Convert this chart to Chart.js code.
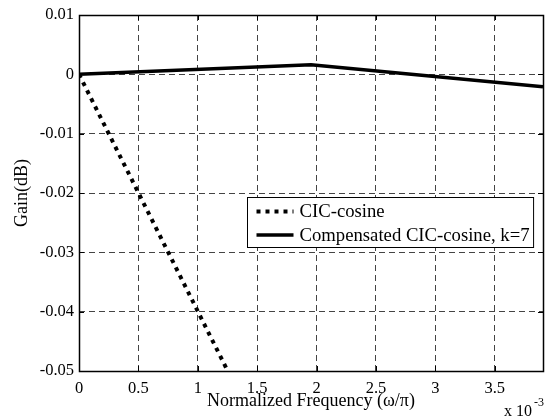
<!DOCTYPE html>
<html>
<head>
<meta charset="utf-8">
<script src="https://cdn.jsdelivr.net/npm/chart.js@4.4.1/dist/chart.umd.min.js"></script>
<style>
  html, body { margin: 0; padding: 0; background: #fff; }
</style>
</head>
<body>
<canvas id="canvasgain" width="549" height="418"></canvas>
<script>
'use strict'

  //////////////////////////////////////////////
 // Werte aus dem Bild (Frequenz in x 10^-3) //
//////////////////////////////////////////////

const FREQ = [ 0, 1.953, 3.906 ];
const CIC_COSINE = [ 0, -0.078, null ];
const COMPENSATED = [ 0, 0.0016, -0.0021 ];
const SERIES_LABELS = [ 'CIC-cosine', 'Compensated CIC-cosine, k=7' ];
const X_TICKS = [ 0, 0.5, 1, 1.5, 2, 2.5, 3, 3.5 ];
const Y_TICKS = [ -0.05, -0.04, -0.03, -0.02, -0.01, 0, 0.01 ];

const SERIF = "'Liberation Serif', 'Times New Roman', serif";

const toPoints = values => FREQ.map( ( f, i ) => ({ x: f, y: values[i] }) );

  ///////////////////////////////////////////////
 // Rahmen, innere Ticks, Legende und x 10^-3 //
///////////////////////////////////////////////

const matlabFrame = {
  id: 'matlabFrame',
  afterDraw( chart ){
    const { ctx, chartArea: a, scales } = chart;
    ctx.save();
    ctx.strokeStyle = '#000';
    ctx.lineWidth = 1;
    ctx.setLineDash( [] );

    ctx.beginPath();
    scales.x.ticks.forEach( t => {
      const px = Math.round( scales.x.getPixelForValue( t.value ) ) + 0.5;
      ctx.moveTo( px, a.bottom ); ctx.lineTo( px, a.bottom - 5 );
      ctx.moveTo( px, a.top );    ctx.lineTo( px, a.top + 5 );
    });
    scales.y.ticks.forEach( t => {
      const py = Math.round( scales.y.getPixelForValue( t.value ) ) + 0.5;
      ctx.moveTo( a.left, py );  ctx.lineTo( a.left + 5, py );
      ctx.moveTo( a.right, py ); ctx.lineTo( a.right - 5, py );
    });
    ctx.stroke();
    ctx.lineWidth = 1.5;
    ctx.strokeRect( Math.round( a.left ) + 0.5, Math.round( a.top ) + 0.5,
                    Math.round( a.right - a.left ), Math.round( a.bottom - a.top ) );

    // legende
    ctx.lineWidth = 1;
    ctx.font = '18.7px ' + SERIF;
    const datasets = chart.data.datasets;
    const textW = Math.max( ...datasets.map( d => ctx.measureText( d.label ).width ) );
    const boxW = 9 + 37 + 6 + textW + 4;
    const boxH = 50;
    const bx = Math.round( a.right - 10 - boxW ) + 0.5;
    const by = Math.round( a.top + 182 ) + 0.5;
    ctx.fillStyle = '#fff';
    ctx.fillRect( bx, by, boxW, boxH );
    ctx.strokeRect( bx, by, boxW, boxH );

    datasets.forEach( ( d, i ) => {
      const ry = by + 14 + i * 23.5;
      ctx.beginPath();
      ctx.lineWidth = d.borderWidth;
      ctx.lineCap = 'butt';
      ctx.setLineDash( d.borderDash || [] );
      ctx.moveTo( bx + 9, ry );
      ctx.lineTo( bx + 46, ry );
      ctx.stroke();
      ctx.fillStyle = '#000';
      ctx.textBaseline = 'middle';
      ctx.textAlign = 'left';
      ctx.fillText( d.label, bx + 52, ry + 1 );
    });

    // exponent der x-achse
    ctx.fillStyle = '#000';
    ctx.textBaseline = 'alphabetic';
    ctx.font = '16px ' + SERIF;
    ctx.fillText( 'x 10', a.right - 39, 416 );
    ctx.font = '12px ' + SERIF;
    ctx.fillText( '-3', a.right - 9, 406 );
    ctx.restore();
  }
};

  /////////////////////////////
 // erzeugen des Diagramms  //
/////////////////////////////

new Chart(
  document.getElementById( 'canvasgain' ),
  {
    type: 'line',
    data: {
      datasets: [{
        label: SERIES_LABELS[0],
        data: toPoints( CIC_COSINE ),
        borderColor: '#000',
        borderWidth: 4,
        borderDash: [ 4, 5 ],
        pointRadius: 0,
        tension: 0
      },{
        label: SERIES_LABELS[1],
        data: toPoints( COMPENSATED ),
        borderColor: '#000',
        borderWidth: 3.5,
        pointRadius: 0,
        tension: 0
      }]
    },
    options: {
      responsive: false,
      animation: false,
      devicePixelRatio: 1,
      layout: { padding: { top: 15, right: 6, left: 0, bottom: 0 } },
      plugins: {
        legend: { display: false },
        tooltip: { enabled: false }
      },
      scales: {
        x: {
          type: 'linear',
          min: 0,
          max: FREQ[2],
          afterBuildTicks: s => { s.ticks = X_TICKS.map( v => ({ value: v }) ) },
          afterFit: s => { s.height = 47 },
          grid: { color: '#444', lineWidth: 1, drawTicks: false },
          border: { display: false, dash: [ 6, 4 ] },
          ticks: {
            padding: 8,
            color: '#000',
            maxRotation: 0,
            autoSkip: false,
            font: { family: SERIF, size: 16.5 },
            callback: v => String( v )
          },
          title: {
            display: true,
            text: 'Normalized Frequency (ω/π)',
            color: '#000',
            font: { family: SERIF, size: 18 },
            padding: { top: 0, bottom: 6 }
          }
        },
        y: {
          min: Y_TICKS[0],
          max: Y_TICKS[Y_TICKS.length - 1],
          afterBuildTicks: s => { s.ticks = Y_TICKS.map( v => ({ value: v }) ) },
          afterFit: s => { s.width = 79 },
          grid: { color: '#444', lineWidth: 1, drawTicks: false },
          border: { display: false, dash: [ 6, 4 ] },
          ticks: {
            padding: 5,
            color: '#000',
            autoSkip: false,
            font: { family: SERIF, size: 16.5 },
            callback: v => v === 0 ? '0' : v.toFixed( 2 )
          },
          title: {
            display: true,
            text: 'Gain(dB)',
            color: '#000',
            font: { family: SERIF, size: 18 },
            padding: { top: 11, bottom: 0 }
          }
        }
      }
    },
    plugins: [ matlabFrame ]
  }
);
</script>
</body>
</html>
